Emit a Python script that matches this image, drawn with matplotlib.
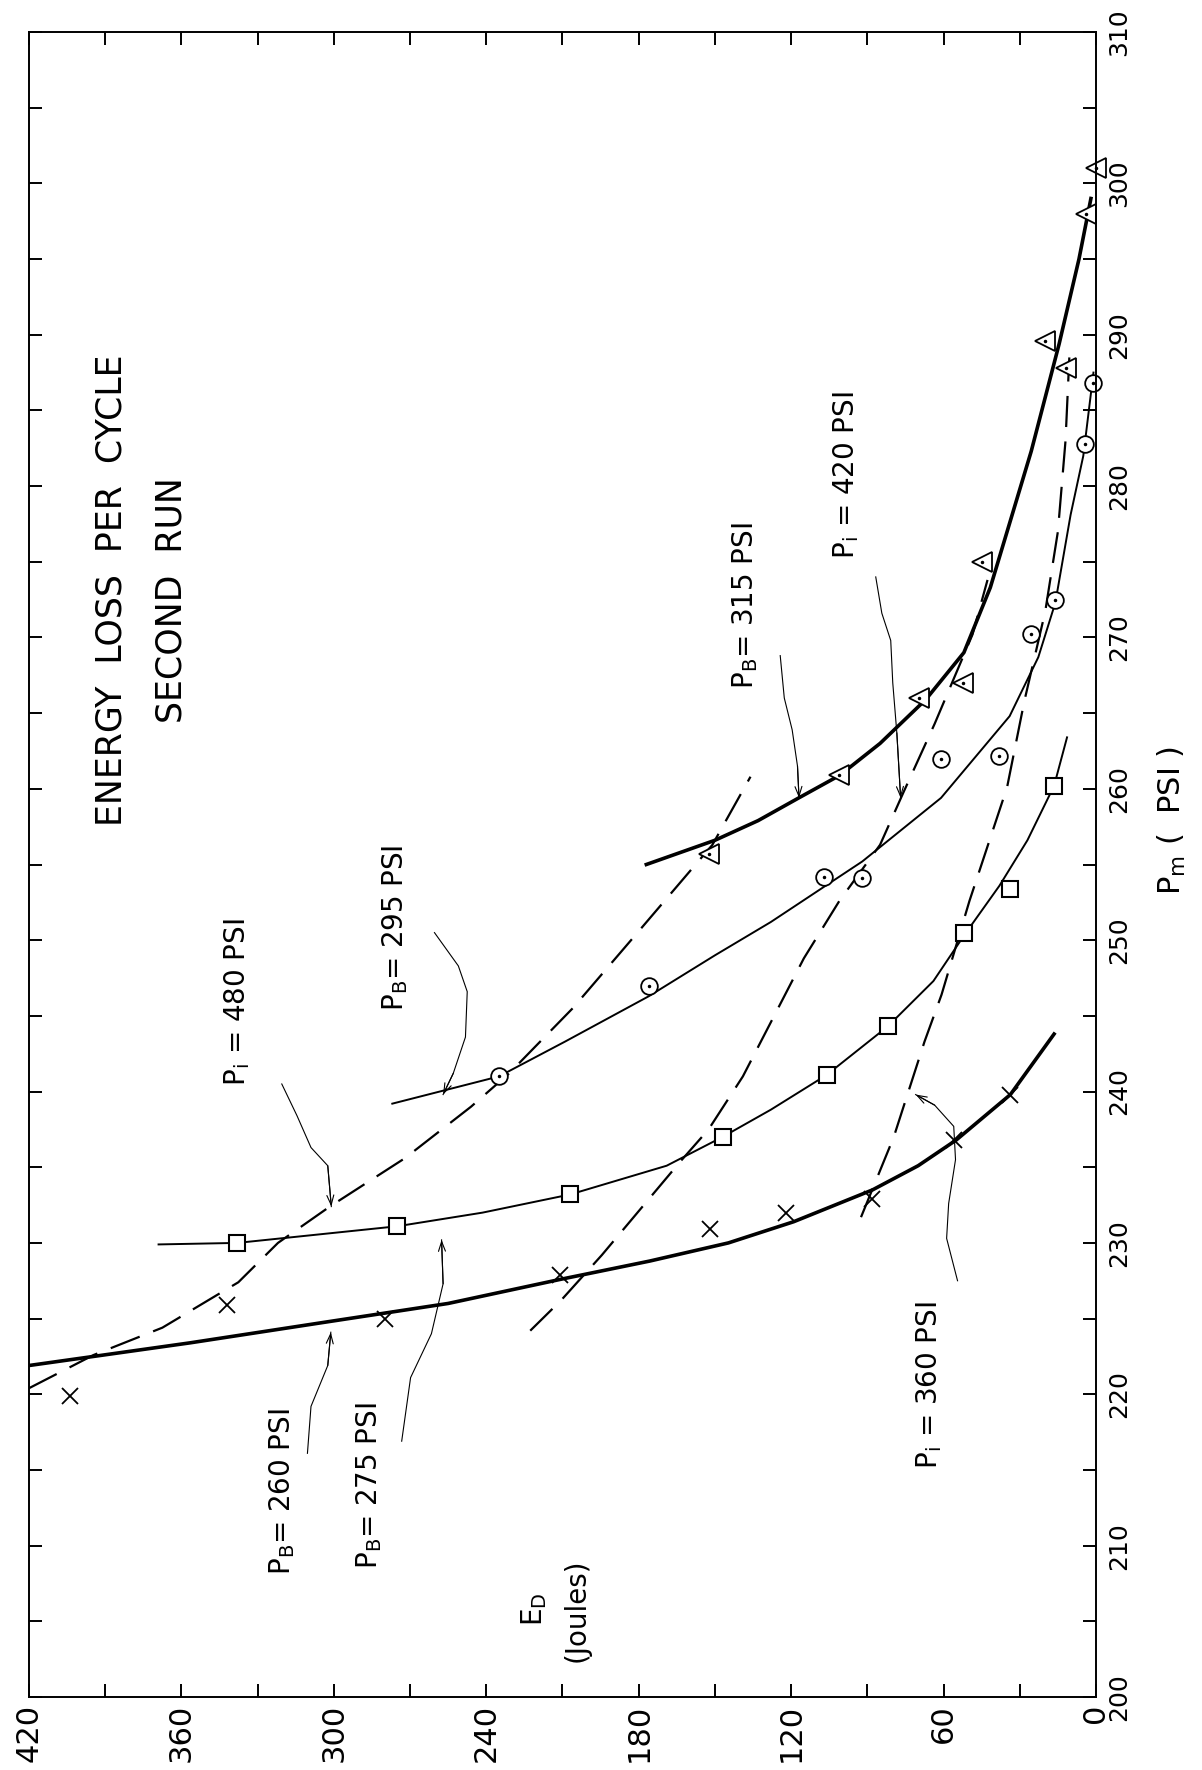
import matplotlib
matplotlib.use('Agg')
import matplotlib.pyplot as plt
import numpy as np

plt.rcParams['font.family'] = ['DejaVu Sans']
plt.rcParams['mathtext.default'] = 'regular'

# measured points: E_D (joules) against P_m (psi)
# P_B = 260 PSI  (x marks)
pb260_e = [404, 342, 280, 211, 152, 122, 88, 56, 34]
pb260_p = [219.9, 225.9, 225.0, 227.9, 230.9, 232.0, 232.9, 236.8, 239.8]
# P_B = 275 PSI  (squares)
pb275_e = [338, 275, 207, 147, 106, 82, 52, 34, 16.5]
pb275_p = [230.0, 231.1, 233.2, 237.0, 241.1, 244.3, 250.5, 253.4, 260.2]
# P_B = 295 PSI  (circles)
pb295_e = [235, 176, 107, 92, 61, 38, 25.5, 16, 4.5, 1]
pb295_p = [241.0, 247.0, 254.2, 254.1, 262.0, 262.2, 270.2, 272.5, 282.8, 286.8]
# P_B = 315 PSI  (triangles)
pb315_e = [152.5, 101, 69.5, 52.5, 45, 12, 20, 4, 0]
pb315_p = [255.7, 260.9, 266.0, 267.0, 275.0, 287.8, 289.6, 298.0, 301.0]

# faired curves, constant P_B (solid)
fit260_e = [420, 356.5, 302, 255, 210.6, 175.7, 144.7, 119, 88, 70, 55, 33.7, 16.5]
fit260_p = [221.9, 223.4, 224.8, 226.0, 227.6, 228.8, 230.0, 231.4, 233.5, 235.1, 236.8, 239.8, 243.8]
fit275_e = [369, 338, 275, 241.5, 207, 169, 147, 128, 106, 82, 64, 52, 38, 27, 20, 16.5, 11.4]
fit275_p = [229.9, 230.0, 231.1, 232.0, 233.2, 235.1, 237.0, 238.8, 241.1, 244.3, 247.3, 250.3, 253.6, 256.6, 259.0, 260.2, 263.4]
fit295_e = [277, 235, 209, 176, 150, 128, 92, 61, 34, 22.7, 16, 10, 5, 1]
fit295_p = [239.2, 241.0, 243.3, 246.3, 249.0, 251.2, 255.2, 259.4, 264.8, 268.7, 272.3, 278.1, 282.0, 287.5]
fit315_e = [177, 163.5, 150, 133, 117, 100.8, 85, 67, 52, 41.6, 25.5, 14.5, 6.7, 2]
fit315_p = [255.0, 255.8, 256.6, 257.9, 259.4, 260.9, 263.0, 265.9, 269.0, 273.3, 282.3, 289.4, 295.0, 299.0]

# constant P_i lines (dashed)
pi480_e = [420, 394.5, 367.5, 337.6, 322, 301.6, 272, 246, 231, 206, 182, 151, 136]
pi480_p = [220.4, 222.6, 224.4, 227.4, 230.0, 232.4, 235.6, 239.0, 241.2, 245.5, 250.2, 256.3, 260.8]
pi420_e = [222.7, 210.6, 194.5, 189, 163.5, 152.5, 139, 115, 101, 85, 75.7, 63.5, 48.6, 42.7]
pi420_p = [224.2, 226.2, 229.2, 230.3, 235.4, 237.5, 241.0, 248.8, 252.6, 256.3, 259.8, 264.3, 270.2, 273.8]
pi360_e = [92.5, 79.6, 67.5, 60.8, 49.8, 35, 28.2, 20, 15, 12, 10.5]
pi360_p = [231.7, 237.0, 243.3, 246.4, 252.6, 260.1, 265.8, 271.7, 277.0, 283.0, 288.5]

e_ticks = [0, 60, 120, 180, 240, 300, 360, 420]
p_ticks = [200, 210, 220, 230, 240, 250, 260, 270, 280, 290, 300, 310]

# curve labels: text, position, pointer path (E, P_m)
labels = [
    (r'P$_i$ = 480 PSI', (338, 245.9),
     [(320.5, 240.5), (314.5, 238.4), (309, 236.3), (302.4, 235.1), (301, 232.4)]),
    (r'P$_B$= 295 PSI', (276, 250.8),
     [(260.4, 250.5), (251, 248.3), (247.5, 246.6), (248.2, 243.6), (253, 241.2), (257, 239.8)]),
    (r'P$_B$= 315 PSI', (138, 272.1),
     [(124.3, 268.8), (122.7, 266.0), (119.6, 263.9), (117.5, 261.5), (116.9, 259.4)]),
    (r'P$_i$ = 420 PSI', (98.5, 280.7),
     [(86.7, 274.0), (84.3, 271.6), (80.8, 269.8), (80, 267.0), (78.4, 263.7), (76.9, 259.4)]),
    (r'P$_B$= 260 PSI', (320.5, 213.6),
     [(310.4, 216.1), (309, 219.2), (302.4, 221.9), (301.2, 224.1)]),
    (r'P$_B$= 275 PSI', (286, 214.0),
     [(273.3, 216.9), (269.8, 221.1), (261.6, 224.0), (257, 227.3), (257.6, 230.2)]),
    (r'P$_i$ = 360 PSI', (65.5, 220.6),
     [(54.5, 227.5), (58.8, 230.3), (58, 232.6), (55.3, 235.5), (56, 237.7), (63.5, 239.1), (71, 239.8)]),
]

fig = plt.figure(figsize=(12.02, 17.70), dpi=100)
ax = fig.add_axes([29 / 1202, 73 / 1770, 1067 / 1202, 1665 / 1770])
ax.set_xlim(420, 0)
ax.set_ylim(200, 310)

for side in ax.spines.values():
    side.set_linewidth(1.4)

ax.set_xticks(e_ticks)
ax.set_xticks(np.arange(30, 420, 60), minor=True)
ax.set_yticks(p_ticks)
ax.set_yticks(np.arange(205, 310, 10), minor=True)
ax.set_xticklabels([str(v) for v in e_ticks], rotation=90, fontsize=22)
ax.set_yticklabels([str(v) for v in p_ticks], rotation=90, fontsize=18, va='center')
ax.tick_params(which='both', direction='in', length=9.5, width=1.4,
               top=True, bottom=True, left=True, right=True,
               labelleft=False, labelright=True)
ax.tick_params(axis='x', pad=5)
ax.tick_params(axis='y', pad=8)

# faired curves
ax.plot(fit260_e, fit260_p, color='k', lw=2.6, solid_joinstyle='round')
ax.plot(fit275_e, fit275_p, color='k', lw=1.4, solid_joinstyle='round')
ax.plot(fit295_e, fit295_p, color='k', lw=1.4, solid_joinstyle='round')
ax.plot(fit315_e, fit315_p, color='k', lw=2.6, solid_joinstyle='round')

for xs, ys in [(pi480_e, pi480_p), (pi420_e, pi420_p), (pi360_e, pi360_p)]:
    ax.plot(xs, ys, color='k', lw=1.6, dashes=(14, 6.5))

# data points
ax.plot(pb260_e, pb260_p, ls='none', marker='x', ms=12, mew=1.3, color='k', clip_on=False)
ax.plot(pb275_e, pb275_p, ls='none', marker='s', ms=12, mew=1.5, mfc='white', mec='k', clip_on=False)
ax.plot(pb295_e, pb295_p, ls='none', marker='o', ms=12, mew=1.3, mfc='white', mec='k', clip_on=False)
ax.plot(pb315_e, pb315_p, ls='none', marker='<', ms=14, mew=1.3, mfc='white', mec='k', clip_on=False)
ax.plot(pb295_e + pb315_e, pb295_p + pb315_p, ls='none', marker='.', ms=3, color='k', clip_on=False)

# labels with pointers
for text, (lx, ly), path in labels:
    ax.text(lx, ly, text, rotation=90, ha='center', va='center', fontsize=20)
    px = [p[0] for p in path]
    py = [p[1] for p in path]
    ax.plot(px, py, color='k', lw=0.8)
    ax.annotate('', xy=path[-1], xytext=path[-2],
                arrowprops=dict(arrowstyle='->,head_length=0.7,head_width=0.25',
                                lw=0.8, color='k', shrinkA=0, shrinkB=0))

ax.text(387.5, 273.1, 'ENERGY  LOSS  PER  CYCLE', rotation=90, ha='center', va='center', fontsize=25)
ax.text(364, 272.5, 'SECOND  RUN', rotation=90, ha='center', va='center', fontsize=25)
ax.text(221, 205.8, r'E$_D$', rotation=90, ha='center', va='center', fontsize=20)
ax.text(204.5, 205.7, '(Joules)', rotation=90, ha='center', va='center', fontsize=20)
fig.text(1172 / 1202, 1 - 820 / 1770, r'P$_m$ (  PSI )', rotation=90, ha='center', va='center', fontsize=22)

fig.savefig('out.png', dpi=100, facecolor='white')
